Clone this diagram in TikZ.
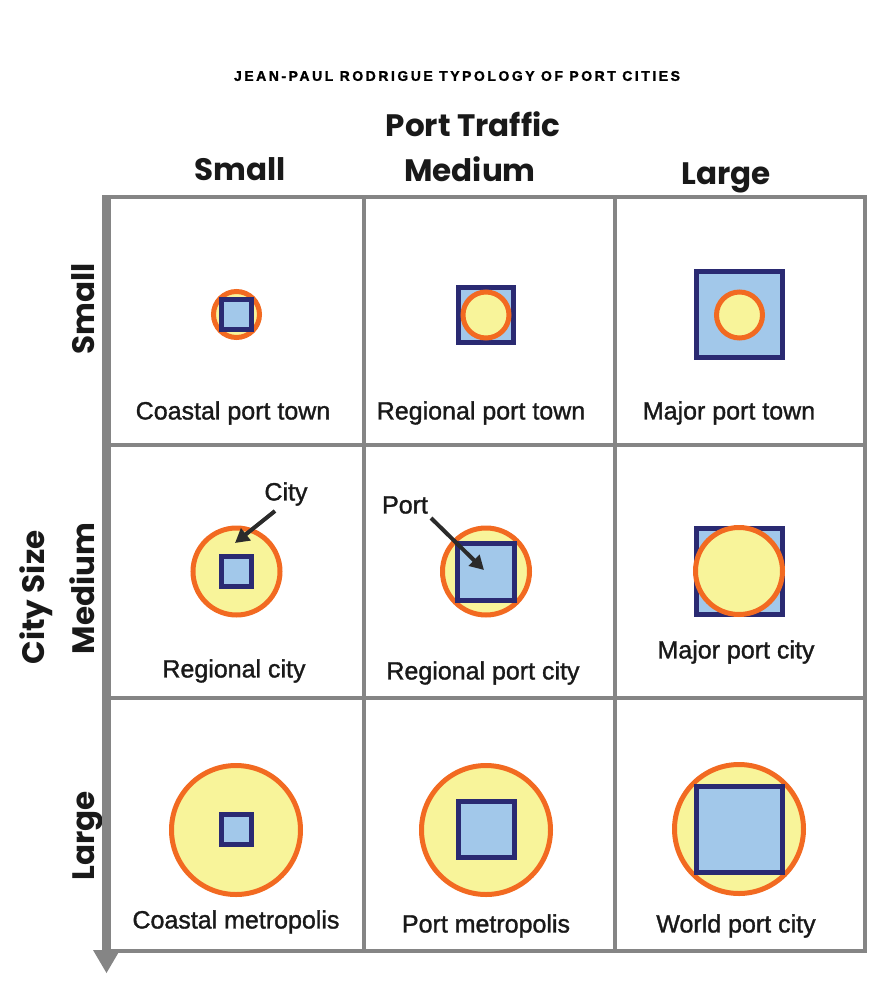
\documentclass[tikz,border=0pt]{standalone}
\usepackage{fontspec}
\setmainfont{Liberation Sans}
\newfontfamily\lblf{Liberation Sans}[FakeBold=1.3]
\newfontfamily\hdr{Poppins}
\newfontfamily\ttl{Liberation Sans}[LetterSpace=18, FakeBold=1.5]
\usetikzlibrary{arrows.meta}
\definecolor{gridgray}{HTML}{858585}
\definecolor{corange}{HTML}{F26A21}
\definecolor{cyellow}{HTML}{F8F49A}
\definecolor{cblue}{HTML}{A2C8EA}
\definecolor{cnavy}{HTML}{2A2A72}
\definecolor{arrdark}{HTML}{2B2B2B}
\tikzset{
  gridline/.style={draw=gridgray, line width=4pt},
  cityc/.style={circle, draw=corange, fill=cyellow, line width=5pt, inner sep=0pt},
  portsq/.style={rectangle, draw=cnavy, fill=cblue, line width=5pt, inner sep=0pt},
  lbl/.style={font=\lblf\fontsize{25}{30}\selectfont, text=black!90},
  axis/.style={font=\hdr\bfseries\fontsize{31}{36}\selectfont, text=black!90, anchor=base, inner sep=0pt},
  ptr/.style={draw=arrdark, line width=4pt, -{Triangle[length=14pt,width=15pt]}}
}
\begin{document}
\begin{tikzpicture}[x=1pt,y=-1pt]
\useasboundingbox (0,0) rectangle (886,990);
% title
\node[font=\ttl\bfseries\fontsize{14}{16}\selectfont] (title) at (457,76) {JEAN-PAUL RODRIGUE TYPOLOGY OF PORT CITIES};
\node[axis] (ptraffic) at (473,136) {Port Traffic};
\node[axis] (tsmall) at (240,180) {Small};
\node[axis] (tmedium) at (470,181) {Medium};
\node[axis] (tlarge) at (726,184) {Large};
\node[axis, rotate=90] (citysize) at (44,597.5) {City Size};
\node[axis, rotate=90] (lsmall) at (94,308.5) {Small};
\node[axis, rotate=90] (lmedium) at (94,588.5) {Medium};
\node[axis, rotate=90] (llarge) at (94,836) {Large};
% grid
\draw[gridline] (107,197) -- (865,197) -- (865,951) -- (107,951);
\draw[gridline] (107,445) -- (865,445);
\draw[gridline] (107,698) -- (865,698);
\draw[gridline] (364,197) -- (364,951);
\draw[gridline] (615,197) -- (615,951);
% city size arrow
\draw[draw=gridgray, line width=9pt] (106.5,195) -- (106.5,952);
\fill[gridgray] (93,950) -- (120,950) -- (106.5,973) -- cycle;
% row 1
\node[cityc, minimum size=46pt] (c11) at (236.5,314.5) {};
\node[portsq, minimum size=30pt] (p11) at (236.5,314.5) {};
\node[portsq, minimum size=55pt] (p12) at (486,315) {};
\node[cityc, minimum size=46pt] (c12) at (486,315) {};
\node[portsq, minimum size=86pt] (p13) at (739.5,314.5) {};
\node[cityc, minimum size=46pt] (c13) at (739.5,315) {};
% row 2
\node[cityc, minimum size=87pt] (c21) at (236.5,571.5) {};
\node[portsq, minimum size=30pt] (p21) at (236.5,571.5) {};
\node[cityc, minimum size=87pt] (c22) at (486,571.5) {};
\node[portsq, minimum size=57pt] (p22) at (486,571.5) {};
\node[portsq, minimum size=86pt] (p23) at (739.5,571) {};
\node[cityc, minimum size=87pt] (c23) at (739,571) {};
% row 3
\node[cityc, minimum size=129pt] (c31) at (236,830) {};
\node[portsq, minimum size=30pt] (p31) at (236.5,829) {};
\node[cityc, minimum size=129pt] (c32) at (486,830) {};
\node[portsq, minimum size=56pt] (p32) at (486,829.5) {};
\node[cityc, minimum size=129pt] (c33) at (739,829) {};
\node[portsq, minimum size=86pt] (p33) at (739.5,829) {};
% pointer labels
\node[lbl] (city) at (286,494) {City};
\node[lbl] (port) at (405,505) {Port};
\coordinate (citystart) at (275,511);
\coordinate (cityend) at (235,543);
\coordinate (portstart) at (431,518);
\coordinate (portend) at (484,570);
\draw[ptr] (citystart) -- (cityend);
\draw[ptr] (portstart) -- (portend);
% cell labels
\node[lbl] (n11) at (233,413) {Coastal port town};
\node[lbl] (n12) at (481,413) {Regional port town};
\node[lbl] (n13) at (729,413) {Major port town};
\node[lbl] (n21) at (234,671) {Regional city};
\node[lbl] (n22) at (483,673) {Regional port city};
\node[lbl] (n23) at (736,652) {Major port city};
\node[lbl] (n31) at (236,922) {Coastal metropolis};
\node[lbl] (n32) at (486,926) {Port metropolis};
\node[lbl] (n33) at (736,926) {World port city};
\end{tikzpicture}
\end{document}
